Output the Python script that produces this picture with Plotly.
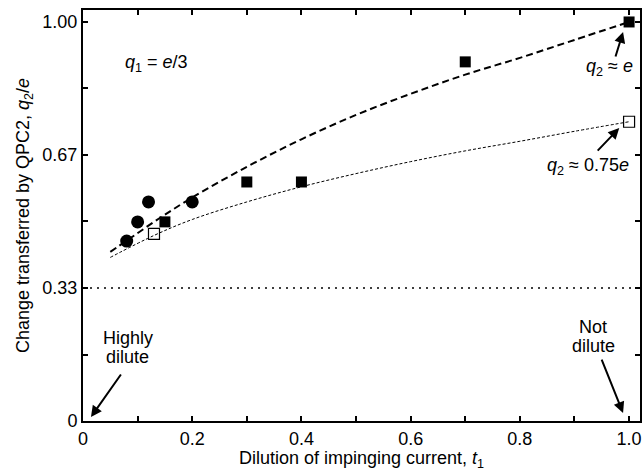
import plotly.graph_objects as go

# Data
circ_x = [0.08, 0.10, 0.12, 0.20]
circ_y = [0.451, 0.499, 0.549, 0.549]

fsq_x = [0.15, 0.30, 0.40, 0.70, 1.00]
fsq_y = [0.499, 0.599, 0.599, 0.900, 1.000]

osq_x = [0.13, 1.00]
osq_y = [0.469, 0.750]

dash_x = [0.05, 0.08, 0.14, 0.20, 0.30, 0.40, 0.50, 0.60, 0.70, 0.80, 0.90, 1.00]
dash_y = [0.424, 0.452, 0.508, 0.560, 0.637, 0.706, 0.767, 0.820, 0.868, 0.910, 0.955, 1.000]

dot_x = [0.05, 0.13, 0.20, 0.30, 0.40, 0.50, 0.60, 0.70, 0.80, 0.90, 1.00]
dot_y = [0.410, 0.465, 0.505, 0.549, 0.587, 0.620, 0.650, 0.677, 0.701, 0.726, 0.750]

ref_x = [0.0, 1.02]
ref_y = [1/3, 1/3]

x_ticks = [0, 0.1, 0.2, 0.3, 0.4, 0.5, 0.6, 0.7, 0.8, 0.9, 1.0]
x_labels = ["0", "", "0.2", "", "0.4", "", "0.6", "", "0.8", "", "1.0"]
y_ticks = [0, 1/6, 1/3, 0.5, 2/3, 5/6, 1.0]
y_labels = ["0", "", "0.33", "", "0.67", "", "1.00"]

FONT = "Liberation Sans, Arial, Helvetica, sans-serif"

fig = go.Figure()
fig.add_trace(go.Scatter(x=ref_x, y=ref_y, mode="lines",
                         line=dict(color="black", width=1.6, dash="2px,5px"),
                         hoverinfo="skip"))
fig.add_trace(go.Scatter(x=dot_x, y=dot_y, mode="lines", line_shape="spline",
                         line=dict(color="black", width=1, dash="3px,2px")))
fig.add_trace(go.Scatter(x=dash_x, y=dash_y, mode="lines", line_shape="spline",
                         line=dict(color="black", width=2, dash="7px,4px")))
fig.add_trace(go.Scatter(x=circ_x, y=circ_y, mode="markers",
                         marker=dict(symbol="circle", size=13, color="black")))
fig.add_trace(go.Scatter(x=fsq_x, y=fsq_y, mode="markers",
                         marker=dict(symbol="square", size=11, color="black")))
fig.add_trace(go.Scatter(x=osq_x, y=osq_y, mode="markers",
                         marker=dict(symbol="square-open", size=11, color="black",
                                     line=dict(width=1.2))))

tf = dict(family=FONT, size=18, color="black")
ann = []
ann.append(dict(x=0.135, y=0.897, text="<i>q</i><sub>1</sub> = <i>e</i>/3",
                showarrow=False, font=tf))
ann.append(dict(x=0.965, y=0.887, text="<i>q</i><sub>2</sub> ≈ <i>e</i>",
                showarrow=False, font=tf))
ann.append(dict(x=0.925, y=0.639, text="<i>q</i><sub>2</sub> ≈ 0.75<i>e</i>",
                showarrow=False, font=tf))
ann.append(dict(x=0.082, y=0.208, text="Highly", showarrow=False, font=tf))
ann.append(dict(x=0.082, y=0.161, text="dilute", showarrow=False, font=tf))
ann.append(dict(x=0.934, y=0.236, text="Not", showarrow=False, font=tf))
ann.append(dict(x=0.934, y=0.188, text="dilute", showarrow=False, font=tf))
arrows = [(0.989, 0.975, -8, 26), (0.982, 0.734, -23, 24),
          (0.0146, 0.01, 31, -44), (0.989, 0.02, -22, -55)]
for hx, hy, ax, ay in arrows:
    ann.append(dict(x=hx, y=hy, ax=ax, ay=ay, text="", showarrow=True,
                    arrowhead=2, arrowsize=1.1, arrowwidth=2, arrowcolor="black",
                    standoff=0, startstandoff=0))

fig.update_layout(
    width=642, height=471,
    margin=dict(l=83, r=0, t=10, b=50),
    plot_bgcolor="white", paper_bgcolor="white",
    showlegend=False,
    font=dict(family=FONT, size=18, color="black"),
    annotations=ann,
    xaxis=dict(range=[0, 1.02], tickvals=x_ticks, ticktext=x_labels,
               ticks="inside", ticklen=5, tickwidth=1.5, tickcolor="black",
               showline=True, linecolor="black", linewidth=2, mirror="ticks",
               showgrid=False, zeroline=False,
               tickfont=dict(family=FONT, size=18),
               title=dict(text="Dilution of impinging current, <i>t</i><sub>1</sub>",
                          font=dict(family=FONT, size=18), standoff=8)),
    yaxis=dict(range=[0, 1.03], tickvals=y_ticks, ticktext=y_labels,
               ticks="inside", ticklen=5, tickwidth=1.5, tickcolor="black",
               showline=True, linecolor="black", linewidth=2, mirror="ticks",
               showgrid=False, zeroline=False,
               tickfont=dict(family=FONT, size=18),
               title=dict(text="Change transferred by QPC2, <i>q</i><sub>2</sub>/<i>e</i>",
                          font=dict(family=FONT, size=18), standoff=8)),
)

fig.write_html("out.html")
